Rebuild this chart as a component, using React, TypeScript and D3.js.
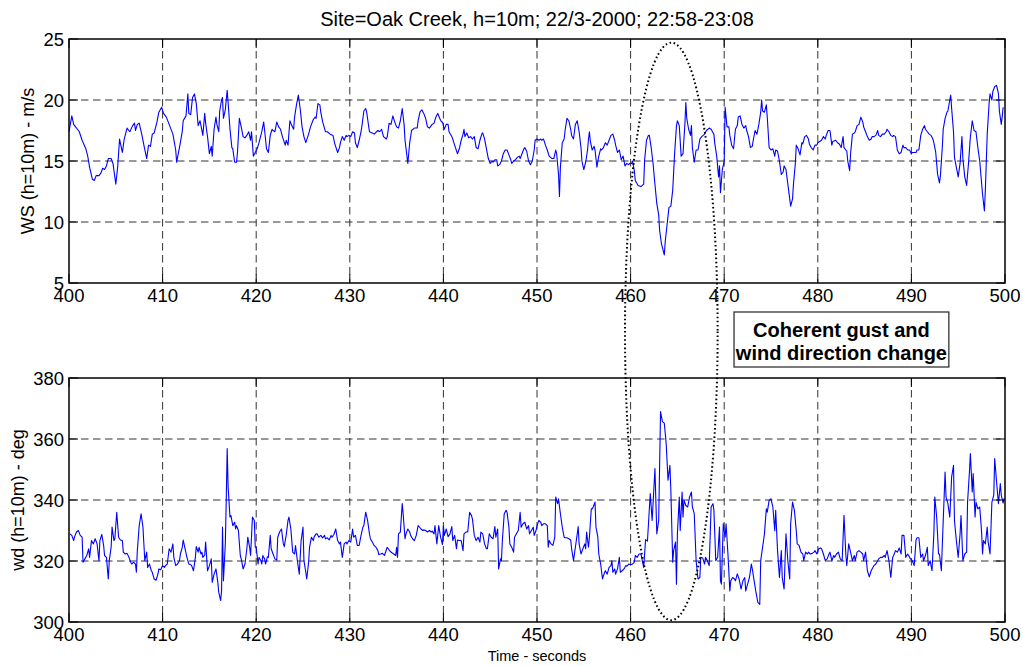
import React from 'react';
import * as d3 from 'd3';

// ---------- Data ----------
const timeTicks = [400, 410, 420, 430, 440, 450, 460, 470, 480, 490, 500];
const wsTicks = [5, 10, 15, 20, 25];
const wdTicks = [300, 320, 340, 360, 380];

const titleText = 'Site=Oak Creek, h=10m; 22/3-2000; 22:58-23:08';
const wsLabel = 'WS (h=10m) - m/s';
const wdLabel = 'wd (h=10m) - deg';
const xLabel = 'Time - seconds';
const noteLines = ['Coherent gust and', 'wind direction change'];

// wind speed [time s, m/s]
const windSpeed: [number, number][] = [
  [400.0,17.4],[400.3,18.7],[400.5,18.0],[400.7,17.8],[400.9,17.6],[401.1,17.4],[401.4,16.7],[401.8,16.0],[402.0,15.4],[402.2,14.5],
  [402.5,13.5],[402.7,13.4],[402.9,13.8],[403.2,13.8],[403.4,14.0],[403.6,14.4],[403.8,14.3],[404.0,14.6],[404.2,15.2],[404.5,15.2],
  [404.7,14.8],[405.0,13.1],[405.2,14.5],[405.4,16.8],[405.7,15.7],[405.9,16.8],[406.2,17.7],[406.5,17.4],[406.8,17.9],[407.0,18.1],
  [407.1,17.5],[407.3,18.0],[407.5,18.1],[407.8,17.1],[408.0,16.3],[408.3,15.2],[408.5,16.3],[408.7,16.2],[408.9,17.2],[409.1,17.3],
  [409.4,18.2],[409.6,19.0],[409.9,19.4],[410.1,18.9],[410.4,18.6],[410.7,18.0],[411.1,17.2],[411.4,15.9],[411.5,14.9],[411.8,16.1],
  [412.1,17.4],[412.2,18.3],[412.5,18.7],[412.7,20.5],[412.8,18.9],[413.0,18.8],[413.2,20.2],[413.4,20.5],[413.6,19.7],[413.8,17.9],
  [414.0,18.3],[414.1,17.9],[414.3,17.1],[414.5,18.9],[414.6,18.1],[414.8,17.0],[415.0,15.6],[415.2,16.2],[415.3,15.4],[415.5,17.6],
  [415.7,18.6],[415.8,18.0],[416.0,17.4],[416.1,19.1],[416.3,20.0],[416.4,20.2],[416.5,18.5],[416.7,19.2],[416.9,20.8],[417.0,19.8],
  [417.2,17.6],[417.4,16.1],[417.5,16.0],[417.7,14.9],[417.9,14.9],[418.0,15.7],[418.2,18.5],[418.4,17.8],[418.6,17.0],[418.8,16.9],
  [419.0,17.1],[419.2,17.4],[419.4,16.7],[419.5,17.4],[419.7,15.4],[419.9,15.7],[420.1,16.0],[420.3,16.5],[420.6,17.4],[420.8,18.2],
  [420.9,17.5],[421.1,16.0],[421.3,15.7],[421.5,17.1],[421.7,17.6],[421.8,17.5],[422.0,17.4],[422.2,18.2],[422.4,17.8],[422.6,17.6],
  [422.8,17.0],[423.1,16.3],[423.2,16.7],[423.4,16.3],[423.6,18.3],[423.8,17.9],[424.0,17.6],[424.1,18.6],[424.3,19.6],[424.5,20.4],
  [424.7,19.3],[424.9,17.8],[425.1,17.0],[425.3,16.5],[425.6,17.2],[425.8,17.8],[426.1,18.4],[426.3,18.6],[426.4,18.5],[426.6,19.7],
  [426.8,19.6],[426.9,19.0],[427.1,18.2],[427.4,17.4],[427.6,17.4],[427.9,17.2],[428.2,17.1],[428.4,16.4],[428.7,15.7],[428.9,16.1],
  [429.0,16.5],[429.2,17.0],[429.4,16.7],[429.6,17.1],[429.7,17.0],[429.9,17.1],[430.1,17.0],[430.3,17.4],[430.5,17.3],[430.6,16.5],
  [430.8,16.1],[431.0,16.7],[431.2,17.4],[431.3,17.9],[431.5,19.1],[431.7,19.3],[431.8,19.0],[432.1,17.4],[432.4,17.3],[432.6,17.2],
  [433.0,17.5],[433.2,17.4],[433.4,17.6],[433.6,17.0],[433.9,16.8],[434.0,17.0],[434.2,18.1],[434.4,18.0],[434.6,18.7],[434.8,18.2],
  [435.0,17.8],[435.2,17.7],[435.4,18.3],[435.6,19.3],[435.8,18.0],[435.9,16.7],[436.2,14.8],[436.4,16.5],[436.6,17.5],[436.9,17.7],
  [437.2,17.7],[437.3,18.3],[437.5,19.0],[437.7,19.2],[437.9,18.9],[438.1,18.5],[438.3,17.8],[438.5,17.7],[438.8,18.0],[439.0,18.1],
  [439.2,18.6],[439.4,18.9],[439.6,18.5],[439.8,18.2],[439.9,18.2],[440.1,17.6],[440.3,18.0],[440.5,18.0],[440.6,17.4],[440.9,17.0],
  [441.0,16.8],[441.2,16.3],[441.5,15.6],[441.7,16.0],[441.9,16.7],[442.1,17.2],[442.2,17.6],[442.3,17.0],[442.5,17.3],[442.7,16.9],
  [442.9,17.0],[443.1,16.8],[443.3,17.0],[443.5,16.1],[443.7,16.0],[443.9,16.7],[444.1,17.2],[444.2,17.3],[444.4,16.8],[444.6,16.0],
  [444.8,15.2],[445.0,14.8],[445.2,15.0],[445.3,14.9],[445.5,15.1],[445.7,15.1],[445.8,14.6],[446.0,14.7],[446.2,15.0],[446.4,15.6],
  [446.6,15.9],[446.8,15.9],[447.0,15.5],[447.2,15.1],[447.3,14.8],[447.5,15.0],[447.7,15.1],[447.9,15.3],[448.1,15.4],[448.2,15.2],
  [448.4,15.6],[448.6,16.0],[448.7,16.1],[448.9,15.8],[449.1,15.0],[449.3,14.7],[449.5,15.0],[449.7,15.9],[449.8,16.7],[450.0,16.8],
  [450.2,16.7],[450.4,16.8],[450.5,16.7],[450.7,16.8],[450.9,16.3],[451.1,15.9],[451.3,15.4],[451.6,15.2],[451.8,15.2],[452.0,15.9],
  [452.1,15.6],[452.3,13.9],[452.4,12.1],[452.5,14.5],[452.7,16.5],[452.9,16.8],[453.0,17.5],[453.2,18.5],[453.4,18.3],[453.6,17.6],
  [453.7,17.1],[453.9,16.8],[454.1,18.0],[454.3,18.3],[454.5,17.4],[454.7,16.1],[454.8,15.0],[455.0,14.3],[455.2,14.9],[455.4,15.9],
  [455.5,16.8],[455.6,17.4],[455.7,16.6],[455.9,15.9],[456.1,16.2],[456.2,15.9],[456.4,14.5],[456.6,15.4],[456.8,16.0],[456.9,15.9],
  [457.1,16.1],[457.3,16.5],[457.5,16.3],[457.7,16.7],[457.9,17.1],[458.1,17.2],[458.3,16.7],[458.4,16.3],[458.6,15.7],[458.8,15.9],
  [459.0,15.1],[459.2,15.4],[459.4,14.6],[459.6,14.8],[459.8,14.7],[459.9,14.8],[460.1,14.8],[460.2,15.0],[460.4,14.2],[460.5,13.4],
  [460.8,13.0],[461.1,12.9],[461.4,13.1],[461.5,15.1],[461.7,16.7],[461.9,17.1],[462.0,17.1],[462.2,16.1],[462.4,14.8],[462.6,13.1],
  [462.8,11.5],[463.0,10.6],[463.1,9.3],[463.3,8.2],[463.6,7.3],[463.7,8.4],[463.9,9.8],[464.1,11.2],[464.3,11.3],[464.5,12.6],
  [464.7,15.6],[464.9,17.9],[465.0,18.3],[465.2,17.9],[465.4,15.4],[465.6,15.6],[465.8,18.0],[465.9,19.8],[466.0,18.5],[466.2,17.6],
  [466.4,17.1],[466.5,17.9],[466.6,16.1],[466.8,14.9],[467.0,15.9],[467.2,15.9],[467.4,16.8],[467.6,17.0],[467.9,17.2],[468.1,17.5],
  [468.4,17.7],[468.6,17.6],[468.9,17.2],[469.0,16.4],[469.2,15.4],[469.4,13.7],[469.5,14.6],[469.6,12.4],[469.8,14.3],[470.0,15.0],
  [470.1,19.4],[470.3,17.8],[470.5,17.8],[470.6,17.1],[470.8,16.3],[471.0,16.0],[471.2,17.6],[471.4,17.9],[471.5,18.6],[471.7,18.7],
  [471.9,18.0],[472.1,17.7],[472.3,17.9],[472.4,17.5],[472.6,17.0],[472.8,16.1],[473.0,16.2],[473.1,16.7],[473.3,17.5],[473.5,17.2],
  [473.7,18.0],[473.9,19.0],[474.0,20.0],[474.1,19.1],[474.3,19.0],[474.5,19.6],[474.6,18.6],[474.8,16.1],[475.0,15.9],[475.2,16.0],
  [475.4,15.4],[475.5,15.9],[475.7,15.8],[475.9,15.0],[476.1,13.9],[476.3,14.1],[476.4,14.6],[476.6,14.3],[476.8,13.1],[477.1,11.3],
  [477.3,11.9],[477.4,13.1],[477.6,14.8],[477.7,16.3],[477.9,16.0],[478.1,15.5],[478.3,16.5],[478.4,16.4],[478.6,17.0],[478.8,17.1],
  [479.0,16.8],[479.1,16.4],[479.3,16.1],[479.5,15.9],[479.7,16.3],[479.9,16.3],[480.0,16.5],[480.2,16.6],[480.4,16.7],[480.6,17.0],
  [480.8,16.8],[480.9,17.1],[481.1,17.5],[481.3,17.5],[481.5,16.3],[481.6,16.6],[481.9,16.7],[482.1,16.5],[482.3,16.4],[482.5,16.1],
  [482.7,17.0],[482.8,16.1],[483.0,15.9],[483.1,15.8],[483.2,15.0],[483.4,14.2],[483.5,15.6],[483.7,17.2],[483.9,17.3],[484.0,17.4],
  [484.2,17.9],[484.4,18.0],[484.6,18.6],[484.8,18.2],[484.9,17.8],[485.1,17.4],[485.3,17.0],[485.5,16.7],[485.7,16.8],[485.8,17.0],
  [486.0,17.0],[486.2,17.1],[486.4,17.5],[486.5,17.1],[486.7,17.0],[486.9,17.2],[487.1,17.2],[487.3,17.4],[487.4,17.6],[487.6,17.4],
  [487.8,17.1],[488.0,17.0],[488.1,17.1],[488.3,17.0],[488.5,15.9],[488.7,15.6],[488.9,15.7],[489.1,16.3],[489.2,16.1],[489.4,16.1],
  [489.6,15.9],[489.8,15.9],[490.0,15.6],[490.1,15.7],[490.3,15.7],[490.5,15.7],[490.6,15.9],[490.8,15.9],[491.0,17.1],[491.2,17.6],
  [491.4,17.9],[491.5,17.6],[491.7,17.4],[491.9,17.2],[492.1,17.1],[492.3,16.8],[492.4,16.5],[492.6,15.7],[492.8,13.9],[493.0,13.2],
  [493.1,13.8],[493.3,16.1],[493.4,17.6],[493.6,18.5],[493.8,19.0],[493.9,19.1],[494.1,20.0],[494.2,20.4],[494.3,19.3],[494.5,17.4],
  [494.6,15.3],[494.8,14.5],[495.0,13.7],[495.2,14.8],[495.4,17.0],[495.5,15.2],[495.7,13.7],[495.9,13.0],[496.1,14.8],[496.3,17.0],
  [496.4,17.6],[496.5,18.3],[496.7,17.5],[496.9,17.4],[497.1,16.1],[497.3,15.0],[497.4,14.1],[497.6,12.3],[497.8,10.9],[497.9,12.6],
  [498.1,17.2],[498.3,19.7],[498.4,20.5],[498.6,20.0],[498.7,20.7],[498.9,21.1],[499.1,21.2],[499.3,20.5],[499.4,19.1],[499.6,18.0],
  [499.7,18.6],[499.8,19.4],
];

// wind direction [time s, deg]
const windDir: [number, number][] = [
  [400.1,328.9],[400.3,328.4],[400.5,326.7],[400.6,328.0],[400.8,329.5],[401.0,330.0],[401.2,328.4],[401.4,327.8],[401.5,319.6],[401.7,320.7],
  [401.9,321.8],[402.1,324.0],[402.2,321.2],[402.4,326.7],[402.6,325.6],[402.8,327.3],[403.0,325.6],[403.2,320.1],[403.3,326.7],[403.5,328.7],
  [403.7,325.1],[403.8,321.8],[404.0,321.2],[404.2,314.1],[404.3,320.1],[404.5,324.5],[404.6,331.1],[404.8,326.7],[404.9,327.3],[405.1,336.0],
  [405.3,327.8],[405.5,326.9],[405.7,326.7],[405.8,322.9],[406.0,322.3],[406.2,322.5],[406.4,321.2],[406.6,319.6],[406.7,319.0],[406.9,319.6],
  [407.1,319.0],[407.2,316.3],[407.3,323.4],[407.5,331.6],[407.7,335.5],[407.9,331.1],[408.0,325.6],[408.1,320.1],[408.3,322.9],[408.4,317.9],
  [408.6,319.0],[408.8,316.8],[408.9,316.3],[409.1,314.1],[409.3,313.7],[409.5,315.7],[409.6,317.4],[409.8,317.1],[410.0,318.5],[410.2,317.9],
  [410.3,318.5],[410.5,319.0],[410.7,324.0],[410.9,322.9],[411.1,325.6],[411.2,321.2],[411.4,318.5],[411.6,319.0],[411.8,320.1],[411.9,322.3],
  [412.1,324.5],[412.2,326.9],[412.4,324.0],[412.6,321.2],[412.8,319.0],[413.0,318.8],[413.1,318.5],[413.3,316.8],[413.5,321.2],[413.6,324.7],
  [413.8,322.9],[413.9,324.5],[414.1,322.3],[414.2,322.9],[414.3,321.2],[414.5,322.0],[414.6,326.2],[414.8,316.8],[415.0,318.5],[415.2,320.7],
  [415.3,313.0],[415.5,315.7],[415.7,317.4],[415.9,313.0],[416.0,309.7],[416.2,307.1],[416.3,310.2],[416.4,331.1],[416.5,313.5],[416.7,325.6],
  [416.8,339.9],[416.9,356.9],[417.0,344.3],[417.2,334.4],[417.3,334.9],[417.5,331.6],[417.7,332.7],[417.8,330.5],[417.9,331.6],[418.1,330.0],
  [418.3,321.8],[418.4,320.7],[418.6,317.4],[418.8,319.0],[419.0,324.0],[419.1,327.8],[419.3,324.5],[419.4,321.8],[419.6,334.4],[419.8,333.3],
  [419.9,324.5],[420.0,324.5],[420.2,319.0],[420.3,321.2],[420.5,320.1],[420.6,319.0],[420.7,321.8],[420.9,320.7],[421.0,319.0],[421.2,321.4],
  [421.3,321.2],[421.5,328.4],[421.6,324.0],[421.8,322.3],[422.0,320.7],[422.2,320.3],[422.3,327.8],[422.5,329.5],[422.7,330.5],[422.9,325.6],
  [423.0,324.7],[423.2,328.4],[423.4,333.3],[423.5,334.4],[423.7,330.5],[423.9,322.9],[424.1,322.3],[424.2,325.1],[424.4,320.1],[424.6,315.7],
  [424.7,321.2],[424.8,326.7],[425.0,331.1],[425.1,320.1],[425.3,316.3],[425.4,314.1],[425.6,319.6],[425.7,324.5],[425.9,327.8],[426.1,326.7],
  [426.2,328.0],[426.4,328.9],[426.5,328.9],[426.7,327.8],[426.9,328.4],[427.1,327.6],[427.3,328.4],[427.4,327.3],[427.6,327.6],[427.8,326.9],
  [428.0,328.4],[428.1,327.8],[428.3,328.7],[428.5,330.5],[428.7,326.7],[428.9,325.6],[429.0,326.2],[429.2,321.2],[429.4,325.6],[429.6,326.2],
  [429.7,325.6],[429.9,326.7],[430.1,326.2],[430.3,330.5],[430.4,327.8],[430.6,328.4],[430.8,325.1],[431.0,325.1],[431.2,328.4],[431.4,331.1],
  [431.5,331.6],[431.7,336.0],[431.9,333.3],[432.1,328.9],[432.2,327.3],[432.4,326.2],[432.6,325.1],[432.8,324.5],[433.0,323.4],[433.1,322.1],
  [433.3,322.3],[433.5,322.5],[433.7,321.8],[434.0,324.5],[434.3,323.2],[434.5,322.7],[434.7,322.3],[434.9,321.8],[435.0,324.5],[435.1,321.2],
  [435.2,328.9],[435.4,329.5],[435.6,338.8],[435.7,335.5],[435.9,327.3],[436.0,328.9],[436.2,330.5],[436.4,329.5],[436.5,328.4],[436.7,327.3],
  [436.9,326.7],[437.1,328.4],[437.3,331.6],[437.4,331.3],[437.6,330.5],[437.8,330.0],[437.9,330.2],[438.1,330.0],[438.3,329.5],[438.5,330.0],
  [438.7,329.5],[438.8,329.8],[439.0,328.9],[439.1,331.6],[439.3,325.6],[439.5,331.6],[439.7,327.8],[439.9,325.4],[440.0,331.6],[440.1,328.4],
  [440.3,330.5],[440.5,328.0],[440.7,328.9],[440.9,331.3],[441.0,326.7],[441.2,328.4],[441.4,324.0],[441.5,326.9],[441.7,326.7],[441.9,326.7],
  [442.1,323.4],[442.2,328.9],[442.4,329.5],[442.6,329.5],[442.8,336.0],[443.0,334.9],[443.1,333.8],[443.3,328.4],[443.5,326.7],[443.7,327.8],
  [443.9,326.2],[444.0,329.5],[444.2,328.9],[444.4,325.6],[444.6,324.0],[444.7,324.0],[444.9,328.9],[445.1,327.8],[445.3,327.3],[445.5,331.3],
  [445.6,327.8],[445.8,330.5],[445.9,317.4],[446.1,320.7],[446.2,320.1],[446.3,326.7],[446.5,335.5],[446.7,336.6],[446.8,336.0],[447.0,331.1],
  [447.1,325.6],[447.3,324.5],[447.5,322.9],[447.6,327.8],[447.8,328.9],[448.0,330.0],[448.2,336.0],[448.3,331.1],[448.5,332.2],[448.7,332.7],
  [448.9,330.5],[449.1,331.6],[449.2,328.9],[449.4,330.0],[449.6,331.1],[449.7,328.4],[449.9,330.0],[450.0,331.6],[450.2,333.3],[450.4,332.7],
  [450.5,331.6],[450.7,332.2],[450.9,332.2],[451.1,331.6],[451.2,324.5],[451.3,326.7],[451.5,325.6],[451.7,325.1],[451.9,327.8],[452.0,341.0],
  [452.2,338.8],[452.3,340.4],[452.5,335.5],[452.7,331.1],[452.9,327.8],[453.0,327.6],[453.2,327.6],[453.4,327.3],[453.6,326.9],[453.7,324.0],
  [453.9,320.1],[454.1,324.5],[454.3,328.9],[454.4,331.3],[454.5,325.6],[454.7,322.3],[454.9,324.0],[455.1,325.6],[455.2,324.0],[455.3,329.5],
  [455.5,324.5],[455.6,327.8],[455.8,337.1],[455.9,337.1],[456.0,337.7],[456.2,339.3],[456.3,331.1],[456.5,327.8],[456.6,322.3],[456.8,319.0],
  [457.0,314.1],[457.1,315.2],[457.3,316.8],[457.5,315.7],[457.7,317.9],[457.9,318.5],[458.0,320.1],[458.1,316.3],[458.3,317.4],[458.4,315.7],
  [458.6,317.4],[458.8,321.2],[458.9,316.3],[459.1,316.8],[459.3,317.4],[459.5,318.5],[459.6,318.3],[459.8,319.0],[460.0,318.8],[460.2,319.0],
  [460.4,319.6],[460.5,321.8],[460.7,321.2],[460.9,322.3],[461.1,322.3],[461.4,317.9],[461.6,327.0],[461.8,326.5],[462.1,342.1],[462.3,333.3],
  [462.4,338.8],[462.6,350.3],[462.8,328.9],[463.0,333.3],[463.2,369.0],[463.4,365.7],[463.6,365.2],[463.8,358.6],[464.0,346.5],[464.2,351.4],
  [464.3,343.2],[464.5,319.6],[464.6,323.4],[464.8,326.2],[464.9,312.4],[465.0,328.9],[465.2,341.0],[465.3,330.0],[465.5,342.6],[465.6,334.4],
  [465.7,339.9],[465.9,338.2],[466.1,337.7],[466.3,341.0],[466.5,342.6],[466.6,337.7],[466.8,335.5],[467.0,320.1],[467.2,314.1],[467.4,314.6],
  [467.5,321.2],[467.7,321.0],[467.9,319.0],[468.0,321.2],[468.2,320.1],[468.4,318.5],[468.6,337.7],[468.8,338.8],[468.9,336.6],[469.1,320.1],
  [469.3,321.2],[469.5,331.1],[469.6,313.5],[469.7,312.4],[469.9,332.2],[470.1,327.8],[470.2,332.2],[470.4,322.3],[470.6,310.2],[470.7,313.5],
  [470.9,314.6],[471.1,314.1],[471.2,313.5],[471.4,315.8],[471.6,314.0],[471.8,310.8],[472.0,313.5],[472.2,314.6],[472.3,310.2],[472.5,312.4],
  [472.7,314.6],[472.9,319.0],[473.0,317.4],[473.2,313.5],[473.4,309.6],[473.6,306.4],[473.8,305.8],[473.9,320.1],[474.1,324.5],[474.3,328.9],
  [474.5,337.1],[474.6,336.0],[474.8,339.9],[475.0,340.4],[475.2,337.7],[475.4,329.9],[475.5,336.6],[475.7,323.4],[475.9,314.6],[476.1,323.4],
  [476.2,314.6],[476.4,310.8],[476.6,328.9],[476.8,320.1],[477.0,314.1],[477.1,332.2],[477.3,339.3],[477.5,336.6],[477.7,329.9],[477.8,325.6],
  [478.0,325.1],[478.2,322.9],[478.4,322.3],[478.5,320.1],[478.7,322.9],[478.9,322.3],[479.0,322.9],[479.2,322.3],[479.4,322.5],[479.6,322.9],
  [479.7,323.4],[479.9,322.3],[480.1,324.0],[480.3,324.3],[480.4,324.0],[480.6,322.3],[480.8,320.1],[481.0,320.7],[481.2,322.3],[481.3,322.9],
  [481.5,320.1],[481.7,321.8],[481.8,321.2],[482.0,322.3],[482.2,322.9],[482.4,320.7],[482.6,320.1],[482.8,335.0],[483.0,321.8],[483.1,318.5],
  [483.3,325.6],[483.5,322.9],[483.7,320.1],[483.9,321.8],[484.0,320.1],[484.2,322.9],[484.4,323.4],[484.6,322.9],[484.8,322.3],[484.9,320.1],
  [485.1,322.9],[485.3,316.8],[485.5,314.8],[485.7,316.8],[485.8,317.4],[486.0,318.5],[486.2,319.0],[486.4,320.1],[486.5,320.7],[486.7,321.2],
  [486.9,321.2],[487.1,321.8],[487.2,321.2],[487.4,323.4],[487.6,320.1],[487.8,314.6],[488.0,321.2],[488.1,321.8],[488.3,323.4],[488.5,322.9],
  [488.7,324.3],[488.9,322.3],[489.0,328.4],[489.2,328.4],[489.4,321.2],[489.6,322.3],[489.7,321.8],[489.9,320.7],[490.1,320.1],[490.3,318.5],
  [490.5,327.0],[490.6,327.6],[490.8,327.6],[491.0,321.2],[491.2,322.3],[491.3,320.1],[491.5,321.8],[491.7,324.5],[491.8,318.5],[492.0,320.1],
  [492.2,316.8],[492.4,328.9],[492.5,341.0],[492.7,334.4],[492.9,322.3],[493.0,322.3],[493.2,316.8],[493.4,333.3],[493.6,349.2],[493.7,341.0],
  [493.9,338.8],[494.1,334.4],[494.3,347.6],[494.5,351.4],[494.6,333.3],[494.8,326.8],[495.0,321.2],[495.2,328.9],[495.3,334.9],[495.5,320.1],
  [495.7,322.3],[495.9,322.9],[496.0,339.3],[496.2,349.2],[496.3,355.2],[496.5,342.6],[496.6,348.7],[496.8,334.4],[496.9,339.3],[497.1,337.1],
  [497.3,337.7],[497.5,329.5],[497.6,322.3],[497.7,326.7],[497.9,325.6],[498.1,331.1],[498.2,326.2],[498.4,322.3],[498.6,339.3],[498.8,341.6],
  [498.9,353.6],[499.1,345.9],[499.3,338.8],[499.5,345.4],[499.6,341.6],[499.8,339.0],[499.9,340.5],
];

// annotation (ellipse around the gust event, text box position in time units)
const gustCenterTime = 464.35;
const gustHalfWidth = 4.95;
const gustTopWS = 24.7;
const gustBottomWD = 300.6;
const noteLeftTime = 471.05;
const noteRightTime = 494.0;

// ---------- Layout ----------
const W = 1023;
const H = 666;
const plotL = 69;
const plotR = 1005;
const top1 = 39, bot1 = 283;
const top2 = 378, bot2 = 622;
const FONT = '"Liberation Sans", Arial, Helvetica, sans-serif';
const tickFont = 18.5;
const gridColor = '#333333';
const dash = '7.5,4.5';
const tickLen = 9;

type PanelProps = {
  y: d3.ScaleLinear<number, number>;
  x: d3.ScaleLinear<number, number>;
  yTicks: number[];
  data: [number, number][];
  label: string;
  labelX: number;
};

function Panel({ y, x, yTicks, data, label, labelX }: PanelProps) {
  const [yb, yt] = y.range();
  const line = d3.line<[number, number]>().x(d => x(d[0])).y(d => y(d[1]));
  return (
    <g>
      {/* grid */}
      {timeTicks.slice(1, -1).map(t => (
        <line key={'gx' + t} x1={x(t)} x2={x(t)} y1={yt} y2={yb} stroke={gridColor} strokeWidth={1} strokeDasharray={dash} />
      ))}
      {yTicks.slice(1, -1).map(v => (
        <line key={'gy' + v} x1={plotL} x2={plotR} y1={y(v)} y2={y(v)} stroke={gridColor} strokeWidth={1} strokeDasharray={dash} />
      ))}
      {/* data */}
      <path d={line(data) || ''} fill="none" stroke="#0000ff" strokeWidth={1.1} strokeLinejoin="round" />
      {/* ticks */}
      {timeTicks.map(t => (
        <g key={'tx' + t}>
          <line x1={x(t)} x2={x(t)} y1={yb} y2={yb - tickLen} stroke="#000" strokeWidth={1} />
          <line x1={x(t)} x2={x(t)} y1={yt} y2={yt + tickLen} stroke="#000" strokeWidth={1} />
          <text x={x(t)} y={yb + 19.3} textAnchor="middle" fontSize={tickFont} fontFamily={FONT} fill="#000">{t}</text>
        </g>
      ))}
      {yTicks.map(v => (
        <g key={'ty' + v}>
          <line x1={plotL} x2={plotL + tickLen} y1={y(v)} y2={y(v)} stroke="#000" strokeWidth={1} />
          <line x1={plotR} x2={plotR - tickLen} y1={y(v)} y2={y(v)} stroke="#000" strokeWidth={1} />
          <text x={plotL - 5} y={y(v)} dy="0.36em" textAnchor="end" fontSize={tickFont} fontFamily={FONT} fill="#000">{v}</text>
        </g>
      ))}
      {/* box */}
      <rect x={plotL} y={yt} width={plotR - plotL} height={yb - yt} fill="none" stroke="#000" strokeWidth={1.5} />
      {/* y label */}
      <text transform={`translate(${labelX},${(yt + yb) / 2}) rotate(-90)`} textAnchor="middle" fontSize={18} fontFamily={FONT} fill="#000">{label}</text>
    </g>
  );
}

export default function App() {
  const x = d3.scaleLinear().domain([400, 500]).range([plotL, plotR]);
  const yWS = d3.scaleLinear().domain([5, 25]).range([bot1, top1]);
  const yWD = d3.scaleLinear().domain([300, 380]).range([bot2, top2]);

  const ex = x(gustCenterTime);
  const erx = x(gustCenterTime + gustHalfWidth) - ex;
  const eTop = yWS(gustTopWS);
  const eBot = yWD(gustBottomWD);

  const nL = x(noteLeftTime);
  const nR = x(noteRightTime);
  const nTop = bot1 + 29;
  const nBot = top2 - 11;
  const nCx = (nL + nR) / 2;

  return (
    <svg width={W} height={H} viewBox={`0 0 ${W} ${H}`} style={{ position: 'absolute', left: 0, top: 0, background: '#fff' }}>
      <rect x={0} y={0} width={W} height={H} fill="#fff" />
      <text x={(plotL + plotR) / 2} y={25.5} textAnchor="middle" fontSize={20} fontFamily={FONT} fill="#000">{titleText}</text>
      <Panel y={yWS} x={x} yTicks={wsTicks} data={windSpeed} label={wsLabel} labelX={34} />
      <Panel y={yWD} x={x} yTicks={wdTicks} data={windDir} label={wdLabel} labelX={24} />
      <text x={(plotL + plotR) / 2} y={661} textAnchor="middle" fontSize={14.5} fontFamily={FONT} fill="#000">{xLabel}</text>
      {/* gust ellipse */}
      <ellipse cx={ex} cy={(eTop + eBot) / 2} rx={erx} ry={(eBot - eTop) / 2} fill="none" stroke="#000" strokeWidth={2} strokeDasharray="1.6,2.6" />
      {/* note box */}
      <rect x={nL} y={nTop} width={nR - nL} height={nBot - nTop} fill="#fff" stroke="#333" strokeWidth={1.3} />
      <text x={nCx} y={nTop + 24.7} textAnchor="middle" fontSize={20} fontWeight="bold" fontFamily={FONT} fill="#000">{noteLines[0]}</text>
      <text x={nCx} y={nTop + 48} textAnchor="middle" fontSize={20} fontWeight="bold" fontFamily={FONT} fill="#000">{noteLines[1]}</text>
    </svg>
  );
}
